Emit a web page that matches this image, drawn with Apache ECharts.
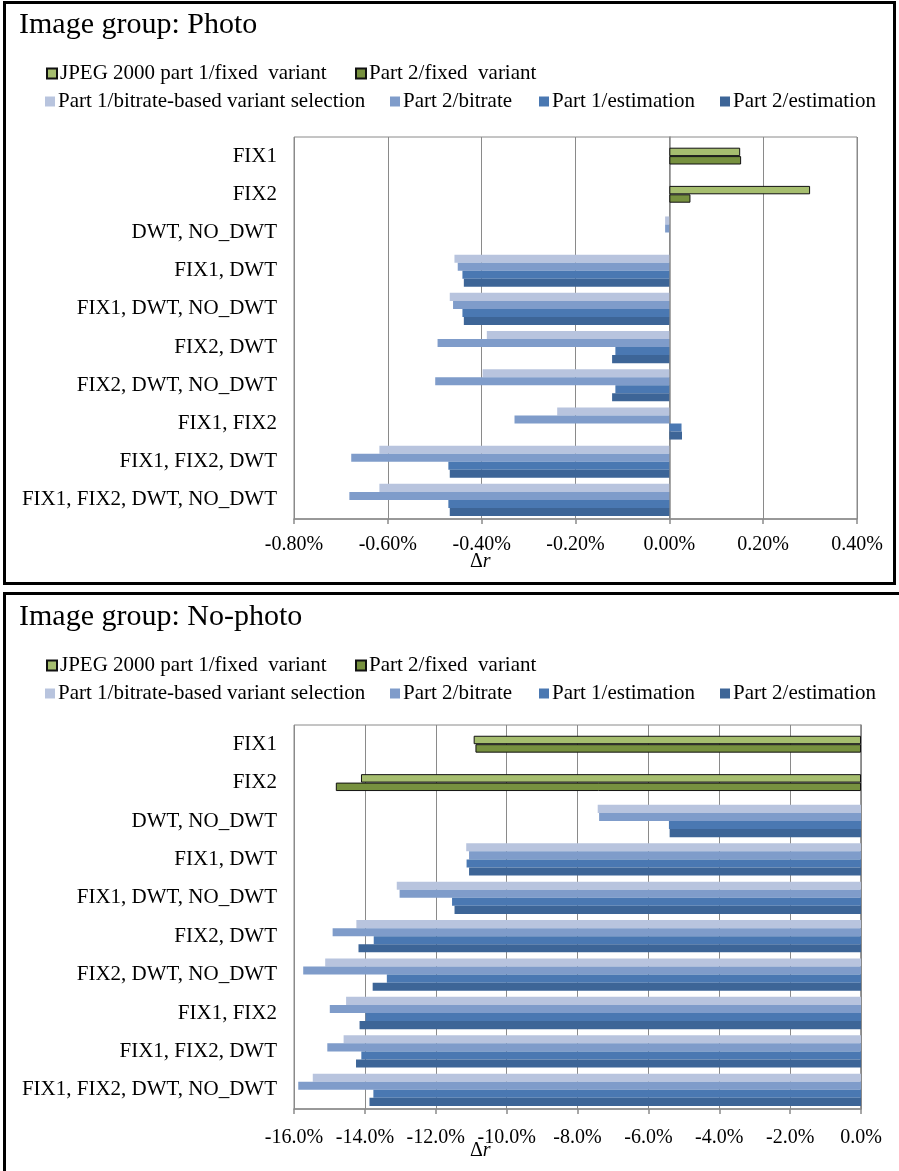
<!DOCTYPE html>
<html>
<head>
<meta charset="utf-8">
<script src="https://cdn.jsdelivr.net/npm/echarts@6/dist/echarts.min.js"></script>
<style>
  html, body { margin: 0; padding: 0; background: #fff; width: 899px; height: 1171px; overflow: hidden; }
  .frame { position: absolute; border: 3px solid #000; box-sizing: border-box; }
  #chart { position: absolute; left: 0; top: 0; width: 899px; height: 1171px; }
</style>
</head>
<body>
<div class="frame" style="left:3px; top:1px; width:893px; height:584px;"></div>
<div class="frame" style="left:3px; top:592px; width:905px; height:600px;"></div>
<div id="chart"></div>
<script>
// ---- data ----
const categories = ['FIX1', 'FIX2', 'DWT, NO_DWT', 'FIX1, DWT', 'FIX1, DWT, NO_DWT', 'FIX2, DWT',
  'FIX2, DWT, NO_DWT', 'FIX1, FIX2', 'FIX1, FIX2, DWT', 'FIX1, FIX2, DWT, NO_DWT'];

const seriesNames = ['JPEG 2000 part 1/fixed  variant', 'Part 2/fixed  variant',
  'Part 1/bitrate-based variant selection', 'Part 2/bitrate', 'Part 1/estimation', 'Part 2/estimation'];

// Image group: Photo (values in %)
const photoP1Fixed   = [0.151, 0.300, null, null, null, null, null, null, null, null];
const photoP2Fixed   = [0.153, 0.045, null, null, null, null, null, null, null, null];
const photoP1Bitrate = [null, null, -0.009, -0.458, -0.468, -0.389, -0.398, -0.239, -0.618, -0.618];
const photoP2Bitrate = [null, null, -0.009, -0.451, -0.461, -0.494, -0.499, -0.330, -0.678, -0.682];
const photoP1Est     = [null, null, 0, -0.441, -0.441, -0.115, -0.115, 0.026, -0.471, -0.471];
const photoP2Est     = [null, null, 0, -0.438, -0.438, -0.122, -0.122, 0.027, -0.468, -0.468];

// Image group: No-photo (values in %)
const nophotoP1Fixed   = [-10.93, -14.11, null, null, null, null, null, null, null, null];
const nophotoP2Fixed   = [-10.88, -14.82, null, null, null, null, null, null, null, null];
const nophotoP1Bitrate = [null, null, -7.43, -11.14, -13.10, -14.24, -15.12, -14.53, -14.60, -15.47];
const nophotoP2Bitrate = [null, null, -7.39, -11.06, -13.02, -14.91, -15.74, -14.99, -15.06, -15.88];
const nophotoP1Est     = [null, null, -5.42, -11.13, -11.54, -13.75, -13.38, -13.98, -14.10, -13.76];
const nophotoP2Est     = [null, null, -5.40, -11.06, -11.47, -14.18, -13.78, -14.15, -14.25, -13.87];

const photoTicks = { min: -0.8, max: 0.4, interval: 0.2 };
const nophotoTicks = { min: -16, max: 0, interval: 2 };

// ---- style ----
const FONT = '"Liberation Serif", "Times New Roman", serif';
const colors = ['#A6BE6F', '#77913F', '#B8C4DE', '#7F9CCA', '#4A78B2', '#3D6597'];
const GRID_GREY = '#8a8a8a';

const chart = echarts.init(document.getElementById('chart'));

function makeSeries(name, idx, data, xi, yi) {
  const green = idx < 2;
  return {
    name: name, type: 'bar', xAxisIndex: xi, yAxisIndex: yi, data: data,
    barGap: '0%', barCategoryGap: green ? '56%' : '16%',
    itemStyle: green
      ? { color: colors[idx], borderColor: '#111', borderWidth: 1 }
      : { color: colors[idx], borderWidth: 0 },
    emphasis: { disabled: true }
  };
}

function yAxes(gridIndex) {
  return [
    {
      gridIndex: gridIndex, type: 'category', data: categories, inverse: true,
      axisLine: { show: true, lineStyle: { color: GRID_GREY, width: 1.5 } },
      axisTick: { show: false },
      axisLabel: { color: '#000', fontFamily: FONT, fontSize: 21, margin: 17 }
    },
    { gridIndex: gridIndex, type: 'category', data: categories, inverse: true, show: false }
  ];
}

function xAxis(gridIndex, ticks, digits, margin) {
  return {
    gridIndex: gridIndex, type: 'value', min: ticks.min, max: ticks.max, interval: ticks.interval,
    axisLine: { show: true, onZero: false, lineStyle: { color: GRID_GREY, width: 1.5 } },
    axisTick: { show: true, length: 5, lineStyle: { color: GRID_GREY, width: 1.5 } },
    splitLine: { show: true, lineStyle: { color: GRID_GREY, width: 1 } },
    axisLabel: { color: '#000', fontFamily: FONT, fontSize: 20, margin: margin,
      formatter: v => v.toFixed(digits) + '%' }
  };
}

function legends(offsetY) {
  const pos = [[46, 63], [355, 63], [45, 91], [390, 91], [539, 91], [720, 91]];
  return seriesNames.map((n, i) => ({
    data: [n], left: pos[i][0], top: pos[i][1] + offsetY, icon: 'rect',
    itemWidth: 10, itemHeight: 10, itemGap: 0, padding: 0, selectedMode: false,
    textStyle: { fontFamily: FONT, fontSize: 21, color: '#000', padding: [0, 0, 0, -2] }
  }));
}

const titleStyle = { fontFamily: FONT, fontSize: 30, fontWeight: 'normal', color: '#000' };
const drStyle = { fontFamily: FONT, fontSize: 20, fontWeight: 'normal', color: '#000',
  rich: { d: { fontFamily: FONT, fontSize: 20, fontWeight: 'normal', color: '#000' },
          r: { fontFamily: FONT, fontSize: 20, fontWeight: 'normal', fontStyle: 'italic', color: '#000' } } };

const photoData = [photoP1Fixed, photoP2Fixed, photoP1Bitrate, photoP2Bitrate, photoP1Est, photoP2Est];
const nophotoData = [nophotoP1Fixed, nophotoP2Fixed, nophotoP1Bitrate, nophotoP2Bitrate, nophotoP1Est, nophotoP2Est];

const series = [];
photoData.forEach((d, i) => series.push(makeSeries(seriesNames[i], i, d, 0, i < 2 ? 1 : 0)));
nophotoData.forEach((d, i) => series.push(makeSeries(seriesNames[i], i, d, 1, i < 2 ? 3 : 2)));

chart.setOption({
  animation: false,
  backgroundColor: 'transparent',
  title: [
    { text: 'Image group: Photo', left: 19, top: 10, padding: 0, textStyle: titleStyle },
    { text: 'Image group: No-photo', left: 19, top: 602, padding: 0, textStyle: titleStyle },
    { text: '{d|Δ}{r|r}', left: 470, top: 552, padding: 0, textStyle: drStyle },
    { text: '{d|Δ}{r|r}', left: 470, top: 1141, padding: 0, textStyle: drStyle }
  ],
  legend: legends(0).concat(legends(592)),
  grid: [
    { left: 294, top: 137, width: 563, height: 382, show: true, borderColor: GRID_GREY, borderWidth: 1 },
    { left: 294, top: 725, width: 567, height: 384, show: true, borderColor: GRID_GREY, borderWidth: 1 }
  ],
  xAxis: [xAxis(0, photoTicks, 2, 16), xAxis(1, nophotoTicks, 1, 19)],
  yAxis: yAxes(0).concat(yAxes(1)),
  series: series
});
</script>
</body>
</html>
